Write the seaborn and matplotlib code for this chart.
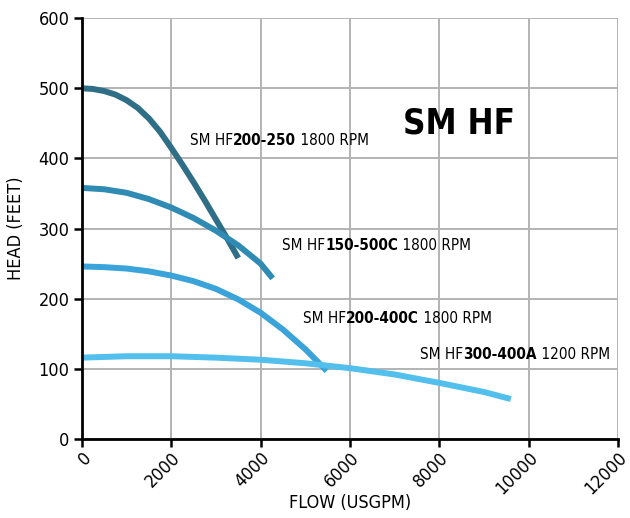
import matplotlib
matplotlib.use('Agg')
import matplotlib.pyplot as plt
import pandas as pd
import seaborn as sns

# pump curves (flow in USGPM, head in feet)
flow_200_250 = [0, 250, 500, 750, 1000, 1250, 1500, 1750, 2000, 2250, 2500,
                2750, 3000, 3250, 3500]
head_200_250 = [500, 499, 496, 491, 483, 472, 457, 438, 415, 391, 366,
                340, 313, 286, 258]

flow_150_500c = [0, 500, 1000, 1500, 2000, 2500, 3000, 3500, 4000, 4270]
head_150_500c = [358, 356, 351, 342, 330, 315, 297, 276, 250, 229]

flow_200_400c = [0, 500, 1000, 1500, 2000, 2500, 3000, 3500, 4000, 4500,
                 5000, 5250, 5480]
head_200_400c = [246, 245, 243, 239, 233, 225, 214, 199, 180, 156,
                 128, 112, 97]

flow_300_400a = [0, 1000, 2000, 3000, 4000, 5000, 6000, 7000, 8000, 9000, 9600]
head_300_400a = [116, 118, 118, 116, 113, 108, 101, 92, 80, 67, 57]

models = ['200-250', '150-500C', '200-400C', '300-400A']
rpms = ['1800 RPM', '1800 RPM', '1800 RPM', '1200 RPM']
colors = ['#2f6e87', '#2f8bb3', '#3aa3d9', '#52bfec']
label_pos = [(2420, 426), (4480, 276), (4950, 172), (7570, 120)]

x_ticks = [0, 2000, 4000, 6000, 8000, 10000, 12000]
y_ticks = [0, 100, 200, 300, 400, 500, 600]

rows = []
for m, fl, hd in zip(models,
                     [flow_200_250, flow_150_500c, flow_200_400c, flow_300_400a],
                     [head_200_250, head_150_500c, head_200_400c, head_300_400a]):
    for f, h in zip(fl, hd):
        rows.append({'model': m, 'flow': f, 'head': h})
df = pd.DataFrame(rows)

sns.set_style('white')
plt.rcParams['font.family'] = ['DejaVu Sans']
plt.rcParams['font.stretch'] = 'condensed'  # closer to the narrow face of the original
plt.rcParams['text.color'] = 'black'
plt.rcParams['axes.labelcolor'] = 'black'
plt.rcParams['xtick.color'] = 'black'
plt.rcParams['ytick.color'] = 'black'

fig = plt.figure(figsize=(6.3, 5.18), dpi=100)
ax = fig.add_axes([0.130, 0.1525, 0.851, 0.8125])

sns.lineplot(data=df, x='flow', y='head', hue='model', hue_order=models,
             palette=colors, linewidth=4.3, legend=False, ax=ax, sort=False,
             solid_capstyle='butt', solid_joinstyle='round')

ax.set_xlim(0, 12000)
ax.set_ylim(0, 600)
ax.set_xticks(x_ticks)
ax.set_yticks(y_ticks)
ax.set_xticklabels([str(t) for t in x_ticks], rotation=45, ha='right',
                   rotation_mode='anchor', fontsize=13)
ax.set_yticklabels([str(t) for t in y_ticks], fontsize=13)
ax.grid(True, color='#b3b3b3', linewidth=1.4, zorder=0)
ax.set_axisbelow(True)

for s in ['top', 'right']:
    ax.spines[s].set_visible(False)
for s in ['left', 'bottom']:
    ax.spines[s].set_linewidth(2)
    ax.spines[s].set_color('black')
ax.tick_params(axis='both', direction='out', length=6, width=1.8, color='black',
               left=True, bottom=True, pad=3)
ax.tick_params(axis='x', pad=1)

ax.set_xlabel('FLOW (USGPM)', fontsize=13, labelpad=-3)
ax.set_ylabel('HEAD (FEET)', fontsize=13, labelpad=10)

for m, rpm, (lx, ly) in zip(models, rpms, label_pos):
    t1 = ax.text(lx, ly, 'SM HF', fontsize=11, ha='left', va='center')
    t2 = ax.annotate(m, xy=(1, 0.5), xycoords=t1, fontsize=11,
                     fontweight='bold', ha='left', va='center')
    ax.annotate(' ' + rpm, xy=(1, 0.5), xycoords=t2, fontsize=11,
                ha='left', va='center')

ax.text(7190, 450, 'SM HF', fontsize=25, fontweight='bold', ha='left',
        va='center')

fig.savefig('out.png', dpi=100)
